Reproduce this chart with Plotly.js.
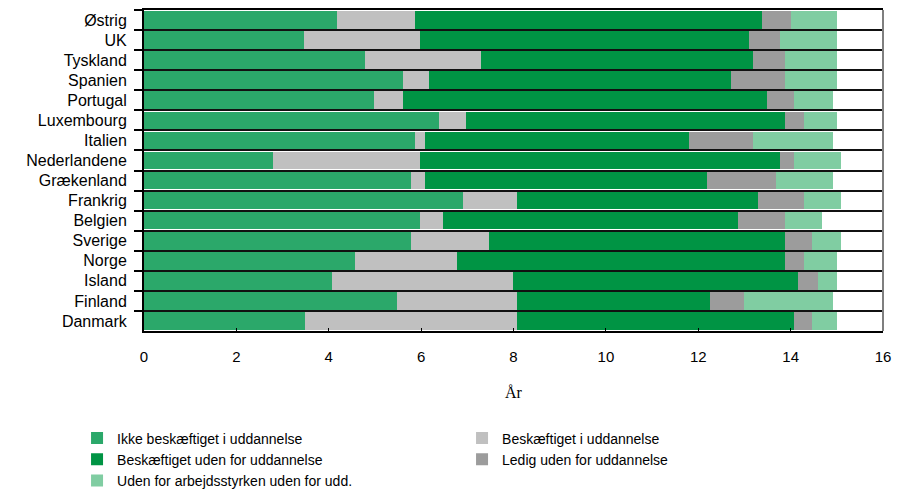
<!DOCTYPE html>
<html>
<head>
<meta charset="utf-8">
<script src="https://cdn.plot.ly/plotly-3.0.1.min.js"></script>
<style>html,body{margin:0;padding:0;background:#fff;}#chart{width:900px;height:489px;}</style>
</head>
<body>
<div id="chart"></div>
<script>
const countries = ["Østrig","UK","Tyskland","Spanien","Portugal","Luxembourg","Italien","Nederlandene","Grækenland","Frankrig","Belgien","Sverige","Norge","Island","Finland","Danmark"];
const ikkeBeskaeftigetIUdd = [4.17,3.47,4.78,5.60,4.99,6.38,5.86,2.79,5.77,6.90,5.98,5.77,4.56,4.08,5.47,3.48];
const beskaeftigetIUdd     = [1.69,2.51,2.51,0.56,0.61,0.60,0.22,3.19,0.31,1.17,0.49,1.69,2.21,3.90,2.60,4.59];
const beskaeftigetUdenUdd  = [7.53,7.11,5.89,6.54,7.88,6.89,5.71,7.80,6.10,5.23,6.40,6.41,7.10,6.19,4.19,6.01];
const ledigUdenUdd         = [0.61,0.69,0.69,1.17,0.60,0.43,1.39,0.30,1.51,1.00,1.00,0.60,0.43,0.43,0.74,0.39];
const udenforArbUdenUdd    = [1.01,1.23,1.14,1.14,0.84,0.71,1.74,1.02,1.23,0.80,0.82,0.63,0.71,0.41,1.92,0.54];
const seriesNames = ["Ikke beskæftiget i uddannelse","Beskæftiget i uddannelse","Beskæftiget uden for uddannelse","Ledig uden for uddannelse","Uden for arbejdsstyrken uden for udd."];
const seriesColors = ["#2BA86A","#C0C0C0","#009444","#9C9C9C","#80CDA2"];
const xTicks = [0,2,4,6,8,10,12,14,16];

const seriesValues = [ikkeBeskaeftigetIUdd, beskaeftigetIUdd, beskaeftigetUdenUdd, ledigUdenUdd, udenforArbUdenUdd];
const traces = seriesValues.map((vals, i) => ({
  type: "bar",
  orientation: "h",
  name: seriesNames[i],
  y: countries,
  x: vals,
  marker: {color: seriesColors[i], line: {width: 0}},
  hoverinfo: "x+y+name"
}));

const font = {family: "'Liberation Sans', Arial, sans-serif", size: 15, color: "#000"};
const layout = {
  width: 900, height: 489,
  margin: {l: 144, r: 17, t: 10, b: 158, autoexpand: false},
  barmode: "stack",
  bargap: 0.12,
  paper_bgcolor: "#fff",
  plot_bgcolor: "#fff",
  font: font,
  showlegend: true,
  legend: {
    orientation: "h",
    traceorder: "normal",
    x: -0.0906, xanchor: "left",
    y: -0.285, yanchor: "top",
    entrywidth: 340,
    font: {family: "'Liberation Sans', Arial, sans-serif", size: 14, color: "#000"},
    tracegroupgap: 0,
    itemclick: false
  },
  xaxis: {
    range: [0, 16],
    tickvals: xTicks,
    ticktext: xTicks.map(String),
    showgrid: false,
    zeroline: false,
    showline: true,
    linecolor: "#000",
    linewidth: 2,
    mirror: true,
    ticks: "inside",
    ticklen: 3,
    tickwidth: 1,
    tickcolor: "#000",
    ticklabelstandoff: 11,
    tickfont: font,
    title: {text: "År", font: {family: "'Liberation Serif', 'Times New Roman', serif", size: 16, color: "#000"}, standoff: 23}
  },
  yaxis: {
    type: "category",
    categoryorder: "array",
    categoryarray: countries,
    autorange: "reversed",
    tickson: "boundaries",
    showgrid: true,
    gridcolor: "#111",
    gridwidth: 2,
    showline: true,
    linecolor: "#000",
    linewidth: 2,
    ticks: "outside",
    ticklen: 8,
    tickwidth: 2,
    tickcolor: "#000",
    ticklabelstandoff: 12,
    tickfont: {family: "'Liberation Sans', Arial, sans-serif", size: 16, color: "#000"},
    zeroline: false
  },
  shapes: [{
    type: "line", xref: "paper", yref: "paper",
    x0: 1, x1: 1, y0: 0, y1: 1,
    line: {color: "#7f7f7f", width: 2}
  }]
};

Plotly.newPlot("chart", traces, layout, {displayModeBar: false, staticPlot: true});
</script>
</body>
</html>
